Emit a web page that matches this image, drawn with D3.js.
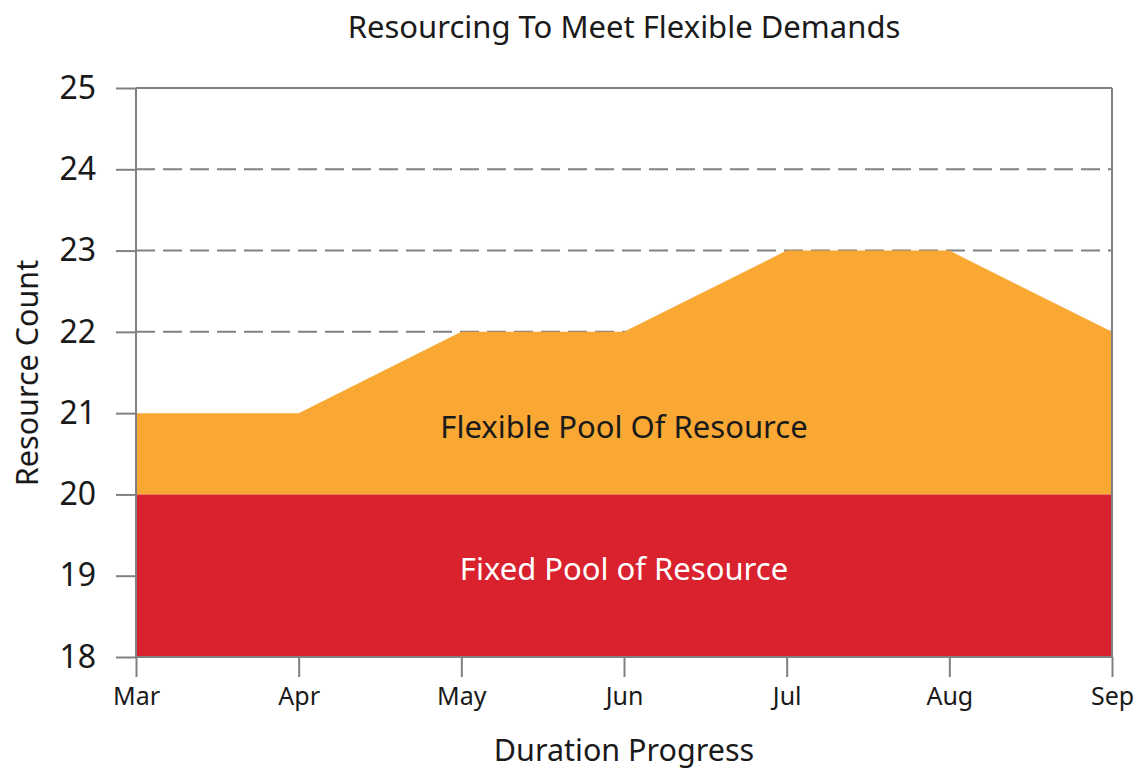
<!DOCTYPE html>
<html><head><meta charset="utf-8">
<script src="https://cdn.jsdelivr.net/npm/d3@7"></script>
<style>body{margin:0;background:#fff}svg{display:block;font-family:"Noto Sans",sans-serif}</style>
</head><body><svg id="c" width="1145" height="769"></svg>
<script>
const months = ["Mar","Apr","May","Jun","Jul","Aug","Sep"];
const fixedPool = [20,20,20,20,20,20,20];
const totalDemand = [21,21,22,22,23,23,22];
const yTicks = [18,19,20,21,22,23,24,25];
const gridTicks = [22,23,24];
const title = "Resourcing To Meet Flexible Demands";
const xTitle = "Duration Progress";
const yTitle = "Resource Count";
const flexLabel = "Flexible Pool Of Resource";
const fixedLabel = "Fixed Pool of Resource";

const svg = d3.select("#c");
const L=136,R=1112,T=88,B=657;
const x = d3.scalePoint().domain(months).range([L,R]);
const y = d3.scaleLinear().domain([18,25]).range([B,T]);
const axisCol="#808080";

// gridlines
svg.append("g").selectAll("line").data(gridTicks).join("line")
  .attr("x1",L).attr("x2",R).attr("y1",d=>y(d)).attr("y2",d=>y(d))
  .attr("stroke",axisCol).attr("stroke-width",2).attr("stroke-dasharray","19,8");

const rows = months.map((m,i)=>({m,fixed:fixedPool[i],total:totalDemand[i]}));
svg.append("path").datum(rows)
  .attr("d",d3.area().x(d=>x(d.m)).y0(d=>y(d.fixed)).y1(d=>y(d.total)))
  .attr("fill","#F9A833");
svg.append("path").datum(rows)
  .attr("d",d3.area().x(d=>x(d.m)).y0(y(18)).y1(d=>y(d.fixed)))
  .attr("fill","#D9222E");

// frame top/right
svg.append("line").attr("x1",L).attr("x2",R).attr("y1",T).attr("y2",T).attr("stroke",axisCol).attr("stroke-width",2);
svg.append("line").attr("x1",R).attr("x2",R).attr("y1",T).attr("y2",B).attr("stroke",axisCol).attr("stroke-width",2);

// axes
const ya = svg.append("g").attr("transform",`translate(${L},0)`)
  .call(d3.axisLeft(y).tickValues(yTicks).tickSize(20).tickPadding(20).tickFormat(d3.format("d")));
ya.selectAll("line,path").attr("stroke",axisCol).attr("stroke-width",2);
ya.select("path").attr("d",`M0,${T}V${B}`);
ya.selectAll("text").attr("font-size",32).attr("fill","#1a1a1a").attr("font-family","Noto Sans");

const xa = svg.append("g").attr("transform",`translate(0,${B})`)
  .call(d3.axisBottom(x).tickSize(20).tickPadding(10));
xa.selectAll("line,path").attr("stroke",axisCol).attr("stroke-width",2);
xa.select("path").attr("d",`M${L},0H${R}`);
xa.selectAll("text").attr("font-size",25).attr("fill","#1a1a1a").attr("font-family","Noto Sans");

// titles
svg.append("text").attr("x",624).attr("y",38).attr("text-anchor","middle").attr("font-size",31).attr("fill","#1a1a1a").text(title);
svg.append("text").attr("x",624).attr("y",761).attr("text-anchor","middle").attr("font-size",30.5).attr("fill","#1a1a1a").text(xTitle);
svg.append("text").attr("transform","translate(38,373) rotate(-90)").attr("text-anchor","middle").attr("font-size",30.5).attr("fill","#1a1a1a").text(yTitle);

// area labels
svg.append("text").attr("x",x("Jun")).attr("y",438).attr("text-anchor","middle").attr("font-size",31).attr("fill","#1a1a1a").text(flexLabel);
svg.append("text").attr("x",x("Jun")).attr("y",580).attr("text-anchor","middle").attr("font-size",31).attr("fill","#ffffff").text(fixedLabel);
</script></body></html>
